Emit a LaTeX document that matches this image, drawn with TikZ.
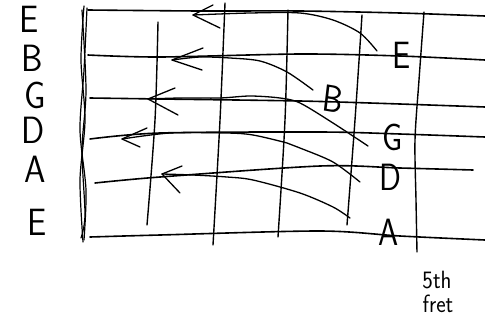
\documentclass[tikz,border=0pt]{standalone}
\usepackage{fontspec}
\begin{document}
\begin{tikzpicture}[x=1pt,y=-1pt,line cap=round,line join=round,
  str/.style={line width=1.6pt},
  fretline/.style={line width=1.4pt},
  nutline/.style={line width=1.2pt},
  arr/.style={line width=1.3pt},
  big/.style={font=\sffamily\fontsize{38}{38}\selectfont,inner sep=0pt,xscale=0.9},
  note/.style={font=\sffamily\fontsize{38}{38}\selectfont,inner sep=0pt,xscale=0.85},
  small/.style={font=\sffamily\fontsize{25}{25}\selectfont,inner sep=0pt,xscale=0.9}]
\useasboundingbox (0,0) rectangle (485,322);
% open string names
\node[big] (lE) at (29,19) {E};
\node[big] (lB) at (32,58) {B};
\node[big] (lG) at (35,95) {G};
\node[big] (lD) at (33,130) {D};
\node[big] (lA) at (35,169) {A};
\node[big] (le) at (37,222) {E};
% nut
\draw[nutline] plot[smooth] coordinates {(84,6) (81,60) (85,120) (80,180) (83,242)};
\draw[nutline] plot[smooth] coordinates {(87,8) (84,70) (80,130) (86,190) (84,240)};
\draw[nutline] plot[smooth] coordinates {(82,10) (86,90) (82,150) (85,215) (81,238)};
% strings
\draw[str] plot[smooth] coordinates {(88,10) (200,11) (300,11) (400,13) (485,16)};
\draw[str] plot[smooth] coordinates {(88,55) (160,57) (300,54) (400,56) (485,60)};
\draw[str] plot[smooth] coordinates {(90,98) (160,99) (300,101) (400,104) (485,107)};
\draw[str] plot[smooth] coordinates {(90,139) (160,133) (320,132) (400,134) (485,137)};
\draw[str] plot[smooth] coordinates {(95,183) (160,177) (320,166) (400,168) (473,170)};
\draw[str] plot[smooth] coordinates {(90,237) (160,235) (320,231) (400,236) (485,240)};
% frets
\draw[fretline] plot[smooth] coordinates {(158,22) (155,120) (147,225)};
\draw[fretline] plot[smooth] coordinates {(225,3) (220,120) (213,245)};
\draw[fretline] plot[smooth] coordinates {(288,10) (285,120) (278,237)};
\draw[fretline] plot[smooth] coordinates {(362,15) (355,120) (347,225)};
\draw[fretline] plot[smooth] coordinates {(424,12) (419,80) (415,140) (416,200) (417,252)};
% fifth-fret notes
\node[note] (nE) at (402,55) {E};
\node[note,rotate=-8] (nB) at (333,99) {B};
\node[note] (nG) at (393,137) {G};
\node[note] (nD) at (390,177) {D};
\node[note] (nA) at (389,232) {A};
\node[small] (lab1) at (437,280) {5th};
\node[small] (lab2) at (438,304) {fret};
% arrows
\coordinate (t1) at (193,15);
\coordinate (t2) at (172,60);
\coordinate (t3) at (148,99);
\coordinate (t4) at (122,139);
\coordinate (t5) at (162,174);
\draw[arr] plot[smooth] coordinates {(377,51) (360,33) (333,20) (300,13) (250,13) (193,15)};
\draw[arr] (213,5) -- (t1) -- (220,28);
\draw[arr] plot[smooth] coordinates {(313,90) (287,72) (260,61) (230,58) (200,57) (172,60)};
\draw[arr] (203,48) -- (t2) -- (202,70);
\draw[arr] plot[smooth] coordinates {(368,146) (333,123) (300,103) (280,98) (250,96) (220,98) (180,98) (148,99)};
\draw[arr] (175,88) -- (t3) -- (178,115);
\draw[arr] plot[smooth] coordinates {(360,182) (333,162) (300,148) (287,143) (253,135) (227,133) (170,133) (122,139)};
\draw[arr] (147,128) -- (t4) -- (140,147);
\draw[arr] plot[smooth] coordinates {(350,218) (333,207) (300,193) (253,180) (227,177) (193,175) (162,174)};
\draw[arr] (182,166) -- (t5) -- (180,193);
\end{tikzpicture}
\end{document}
